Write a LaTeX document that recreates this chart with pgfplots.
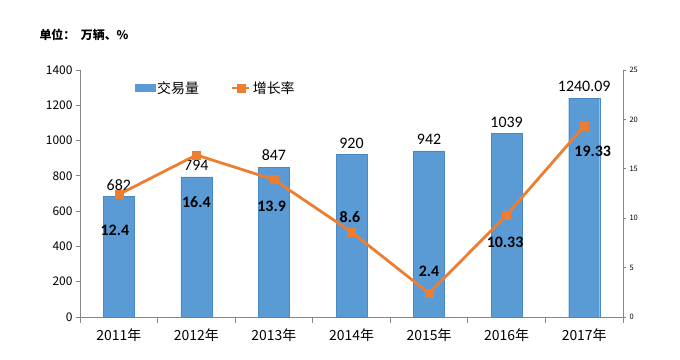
\documentclass[border=0pt]{standalone}
\usepackage{pgfplots}
\pgfplotsset{compat=1.18}
\usepackage{fontspec}
\setmainfont{Noto Sans CJK SC}
\newfontfamily\numfont{Carlito}
\definecolor{barblue}{HTML}{5B9BD5}
\definecolor{baredge}{HTML}{4A8AC4}
\definecolor{lineorange}{HTML}{ED7D31}
\definecolor{axgray}{HTML}{868686}
\begin{document}
\begin{tikzpicture}[x=1bp,y=1bp]
\path[use as bounding box] (0,0) rectangle (680,359);
\node[anchor=west,font=\bfseries\fontsize{12}{14}\selectfont] at (36,324) {单位：\ \ 万辆、\%};
\begin{axis}[
  at={(80bp,42bp)}, anchor=south west, scale only axis,
  width=543bp, height=247bp,
  xmin=-0.5, xmax=6.5, ymin=0, ymax=1400, ytick distance=200,
  axis y line*=left, axis x line*=bottom,
  axis line style={axgray, line width=0.8bp},
  tick align=outside, major tick length=4bp,
  ytick style={axgray, line width=0.8bp},
  xtick={0,...,6},
  xticklabels={2011年,2012年,2013年,2014年,2015年,2016年,2017年},
  major x tick style={draw=none},
  minor xtick={-0.5,0.5,...,6.5},
  minor x tick style={axgray, line width=0.8bp},
  minor tick length=6bp,
  x tick label style={font=\fontsize{14}{16}\selectfont, yshift=-4bp},
  y tick label style={font=\fontsize{12}{14}\selectfont},
  /pgf/number format/assume math mode=true,
  /pgf/number format/1000 sep={},
  clip=false,
]
\addplot[ybar, bar width=31bp, fill=barblue, draw=baredge,
  point meta=explicit symbolic,
  nodes near coords, every node near coord/.append style={font=\numfont\fontsize{16}{17}\selectfont, anchor=south, yshift=3bp}]
  coordinates {(0,682)[682] (1,794)[794] (2,847)[847] (3,920)[920] (4,942)[942] (5,1039)[1039] (6,1240.09)[1240.09]};
\end{axis}
\begin{axis}[
  at={(80bp,42bp)}, anchor=south west, scale only axis,
  width=543bp, height=247bp,
  xmin=-0.5, xmax=6.5, ymin=0, ymax=25, ytick distance=5,
  axis y line*=right, axis x line=none,
  axis line style={axgray, line width=0.8bp},
  tick align=outside, major tick length=3bp,
  ytick style={axgray, line width=0.8bp},
  y tick label style={font=\fontsize{7.5}{8}\selectfont},
  /pgf/number format/assume math mode=true,
  clip=false,
  legend columns=2,
  legend style={draw=none, fill=none, at={(0.095,0.927)}, anchor=west,
    font=\fontsize{14}{15}\selectfont,
    /tikz/every even column/.append style={column sep=30bp}},
]
\addlegendimage{legend image code/.code={\fill[barblue] (0bp,-3.5bp) rectangle (20bp,3.5bp);}}
\addlegendentry{交易量}
\addplot[lineorange, line width=2.8bp, mark=square*, mark size=4bp, mark options={fill=lineorange, solid, line width=0.5bp}]
  coordinates {(0,12.4) (1,16.4) (2,13.9) (3,8.6) (4,2.4) (5,10.33) (6,19.33)};
\addlegendentry{增长率}
\begin{scope}[every node/.style={font=\numfont\bfseries\fontsize{16}{18}\selectfont}]
\node at (axis cs:-0.05,8.81) {12.4};
\node at (axis cs:1,11.64) {16.4};
\node at (axis cs:-0.03+2,11.23) {13.9};
\node at (axis cs:2.98,10.12) {8.6};
\node at (axis cs:4,4.6) {2.4};
\node at (axis cs:4.98,7.59) {10.33};
\node at (axis cs:6.11,16.8) {19.33};
\end{scope}
\end{axis}
\end{tikzpicture}
\end{document}
